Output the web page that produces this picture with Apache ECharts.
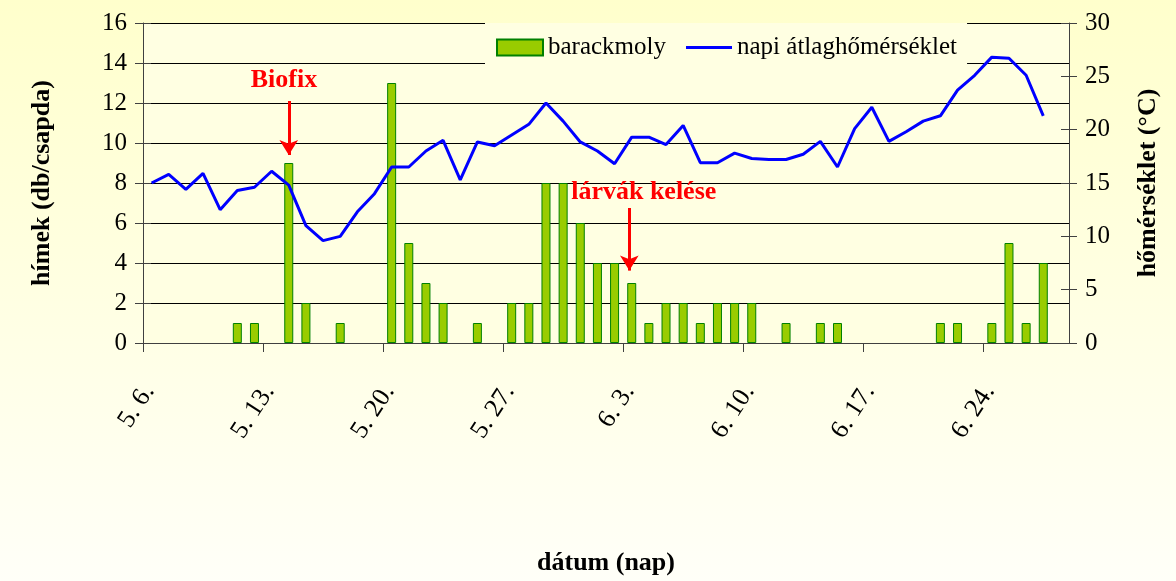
<!DOCTYPE html>
<html>
<head>
<meta charset="utf-8">
<script src="https://cdn.jsdelivr.net/npm/echarts@6/dist/echarts.min.js"></script>
<style>html,body{margin:0;padding:0;}#c{width:1176px;height:581px;}</style>
</head>
<body>
<div id="c"></div>
<script>
// Days (5. 6. – 6. 28.)
const days = ["5. 6.","5. 7.","5. 8.","5. 9.","5. 10.","5. 11.","5. 12.","5. 13.","5. 14.","5. 15.",
  "5. 16.","5. 17.","5. 18.","5. 19.","5. 20.","5. 21.","5. 22.","5. 23.","5. 24.","5. 25.",
  "5. 26.","5. 27.","5. 28.","5. 29.","5. 30.","5. 31.","6. 1.","6. 2.","6. 3.","6. 4.",
  "6. 5.","6. 6.","6. 7.","6. 8.","6. 9.","6. 10.","6. 11.","6. 12.","6. 13.","6. 14.",
  "6. 15.","6. 16.","6. 17.","6. 18.","6. 19.","6. 20.","6. 21.","6. 22.","6. 23.","6. 24.",
  "6. 25.","6. 26.","6. 27.","6. 28."];
const tickLabels = ["5. 6.","5. 13.","5. 20.","5. 27.","6. 3.","6. 10.","6. 17.","6. 24."];
// males per trap (barackmoly)
const moths = [0,0,0,0,0,1,1,0,9,2, 0,1,0,0,13,5,3,2,0,1, 0,2,2,8,8,6,4,4,3,1,
  2,2,1,2,2,2,0,1,0,1, 1,0,0,0,0,0,1,1,0,1, 5,1,4,0];
// daily mean temperature (°C)
const temps = [15.0,15.8,14.4,15.9,12.5,14.3,14.6,16.1,14.8,11.0, 9.6,10.0,12.3,14.0,16.5,16.5,18.0,19.0,15.3,18.85,
  18.5,19.5,20.5,22.5,20.8,18.85,18.0,16.8,19.3,19.3, 18.6,20.4,16.9,16.9,17.8,17.3,17.2,17.2,17.7,18.9,
  16.5,20.1,22.1,18.9,19.8,20.8,21.3,23.7,25.1,26.8, 26.7,25.1,21.3,null];
const leftTicks = {min:0, max:16, interval:2};
const rightTicks = {min:0, max:30, interval:5};
// annotations in data coordinates [day, males]
const notes = [
  {text:"Biofix", at:[8.22,13.14], from:[8.5,12.1], to:[8.5,9.4]},
  {text:"lárvák kelése", at:[29.2,7.53], from:[28.36,6.75], to:[28.36,3.62]}
];

const FONT = "Liberation Serif";
const chart = echarts.init(document.getElementById('c'), null, {renderer:'canvas'});
const plotBg = '#FFFFE2';
const weekPos = tickLabels.map(t=>days.indexOf(t));
const labelPos = weekPos.map(p=>p+0.35);
const barData = moths.map((v,i)=>[i+0.5, v===0?'-':v]);
const lineData = temps.map((v,i)=>[i+0.5, v==null?'-':v]);

chart.setOption({
  animation:false,
  backgroundColor:{type:'linear',x:0,y:0,x2:0,y2:1,colorStops:[{offset:0,color:'#FFFFCC'},{offset:1,color:'#FFFFF8'}]},
  textStyle:{fontFamily:FONT},
  grid:{left:143, right:107, top:23, bottom:235, show:true, backgroundColor:plotBg, borderWidth:0},
  legend:{
    left:485, top:23, padding:[12,10,12,11], backgroundColor:plotBg, itemGap:20,
    itemWidth:46, itemHeight:16,
    textStyle:{fontFamily:FONT, fontSize:25, color:'#000'},
    data:[{name:'barackmoly', icon:'rect'},
          {name:'napi átlaghőmérséklet', icon:'path://M0,0 L46,0 L46,3 L0,3 Z'}]
  },
  xAxis:{
    type:'value', min:0, max:days.length, interval:7,
    axisLine:{show:true, lineStyle:{color:'#404040', width:1}},
    axisTick:{show:true, length:9, lineStyle:{color:'#404040'}, customValues:weekPos},
    splitLine:{show:false},
    axisLabel:{rotate:57, margin:44, fontFamily:FONT, fontSize:26, color:'#000',
      customValues:labelPos,
      formatter:(v)=>days[Math.floor(v)]||''},
    name:'dátum (nap)', nameLocation:'middle', nameGap:207,
    nameTextStyle:{fontFamily:FONT, fontSize:26, fontWeight:'bold', color:'#000'}
  },
  yAxis:[
    {type:'value', position:'left', min:leftTicks.min, max:leftTicks.max, interval:leftTicks.interval,
      axisLine:{show:true, lineStyle:{color:'#404040'}},
      axisTick:{show:true, length:8, lineStyle:{color:'#404040'}},
      splitLine:{show:true, lineStyle:{color:'#000', width:1}},
      axisLabel:{margin:16, fontFamily:FONT, fontSize:25, color:'#000'},
      name:'hímek (db/csapda)', nameLocation:'middle', nameRotate:90, nameGap:88,
      nameTextStyle:{fontFamily:FONT, fontSize:26, fontWeight:'bold', color:'#000'}},
    {type:'value', position:'right', min:rightTicks.min, max:rightTicks.max, interval:rightTicks.interval,
      axisLine:{show:true, lineStyle:{color:'#404040'}},
      axisTick:{show:true, length:8, lineStyle:{color:'#404040'}},
      splitLine:{show:false},
      axisLabel:{margin:16, fontFamily:FONT, fontSize:25, color:'#000'},
      name:'hőmérséklet (°C)', nameLocation:'middle', nameRotate:90, nameGap:66,
      nameTextStyle:{fontFamily:FONT, fontSize:26, fontWeight:'bold', color:'#000', verticalAlign:'top'}},
    {type:'value', position:'left', min:leftTicks.min, max:leftTicks.max, interval:leftTicks.interval,
      axisLine:{show:false}, axisLabel:{show:false}, splitLine:{show:false},
      axisTick:{show:true, inside:true, length:8, lineStyle:{color:'#404040'}}},
    {type:'value', position:'right', min:rightTicks.min, max:rightTicks.max, interval:rightTicks.interval,
      axisLine:{show:false}, axisLabel:{show:false}, splitLine:{show:false},
      axisTick:{show:true, inside:true, length:8, lineStyle:{color:'#404040'}}}
  ],
  series:[
    {name:'barackmoly', type:'bar', yAxisIndex:0, barWidth:9, data:barData,
      itemStyle:{color:'#99CC00', borderColor:'#008000', borderWidth:1},
      markPoint:{
        symbol:'rect', symbolSize:1, itemStyle:{color:'rgba(0,0,0,0)'},
        label:{show:true, position:'inside', fontFamily:FONT, fontSize:26, fontWeight:'bold', color:'#FF0000',
          formatter:(p)=>p.name},
        data:notes.map(n=>({name:n.text, coord:n.at}))
      },
      markLine:{
        silent:true, symbol:['none','arrow'], symbolSize:[14,15],
        lineStyle:{color:'#FF0000', width:3, type:'solid'}, label:{show:false},
        data:notes.map(n=>[{coord:n.from},{coord:n.to}])
      }
    },
    {name:'napi átlaghőmérséklet', type:'line', yAxisIndex:1, data:lineData, showSymbol:false, symbol:'none',
      lineStyle:{color:'#0000FF', width:3}, itemStyle:{color:'#0000FF'}}
  ]
});
</script>
</body>
</html>
